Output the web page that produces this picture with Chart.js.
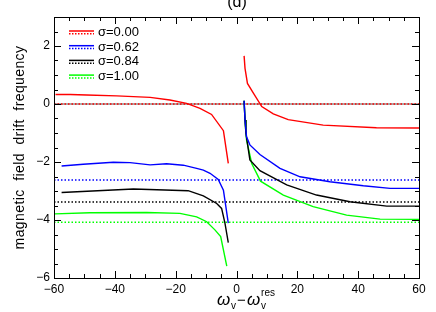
<!DOCTYPE html>
<html>
<head>
<meta charset="utf-8">
<script src="https://cdn.jsdelivr.net/npm/chart.js@4"></script>
<style>
html,body{margin:0;padding:0;background:#fff}
#wrap{width:436px;height:312px;position:relative}
#overlay{position:absolute;left:0;top:0;width:436px;height:312px;pointer-events:none;z-index:2}
</style>
</head>
<body>
<div id="wrap"><canvas id="mycanvas"></canvas><canvas id="overlay" width="436" height="312"></canvas></div>
<script>
// legend labels, colours and the horizontal (dotted) drift levels
var sigmaLabels = ['σ=0.00', 'σ=0.62', 'σ=0.84', 'σ=1.00'];
var colors = ['#ff0000', '#0000ff', '#000000', '#00ff00'];
var driftLevels = [0, -2.62, -3.38, -4.08];

var xTicks = [-60, -40, -20, 0, 20, 40, 60];
var yTicks = [-6, -4, -2, 0, 2];

// sigma = 0.00
var redLeftX  = [-59.5, -54.7, -49.3, -39.4, -28.4, -21.9, -16.4, -12, -8.2, -4.3, -2.7];
var redLeftY  = [0.33, 0.33, 0.31, 0.28, 0.23, 0.14, 0.02, -0.15, -0.36, -0.92, -2.05];
var redRightX = [2.5, 2.8, 3.6, 5.6, 8.3, 12.1, 17, 28.5, 46, 60];
var redRightY = [1.66, 1.23, 0.71, 0.37, -0.09, -0.34, -0.54, -0.73, -0.82, -0.83];

// sigma = 0.62
var blueLeftX  = [-57.5, -50.4, -40.5, -35, -28.4, -23, -17.5, -13.1, -10.9, -8.7, -6, -4.3, -2.7];
var blueLeftY  = [-2.14, -2.08, -2.01, -2.02, -2.10, -2.06, -2.11, -2.22, -2.28, -2.39, -2.6, -2.97, -4.11];
var blueRightX = [2.5, 2.8, 3.3, 4.4, 7.7, 14.3, 20.9, 30.7, 41.7, 50.5, 60];
var blueRightY = [0.11, -0.55, -1.13, -1.41, -1.74, -2.22, -2.51, -2.68, -2.82, -2.91, -2.91];

// sigma = 0.84
var blackLeftX  = [-57.5, -33.9, -15.9, -10.9, -6.5, -4.9, -3.8, -2.7];
var blackLeftY  = [-3.05, -2.93, -2.99, -3.17, -3.43, -3.6, -4.11, -4.78];
var blackRightX = [2.5, 2.8, 3.1, 4.4, 7.7, 16.5, 26.3, 37.3, 49.4, 60];
var blackRightY = [0.11, -0.55, -1.01, -1.93, -2.3, -2.79, -3.14, -3.37, -3.52, -3.52];

// sigma = 1.00
var greenLeftX  = [-59.7, -48.2, -29.5, -18.6, -13.1, -9.8, -7.1, -5.2, -4.3, -3.2];
var greenLeftY  = [-3.79, -3.75, -3.74, -3.77, -3.89, -4.06, -4.34, -4.57, -5.03, -5.59];
var greenRightX = [2.5, 2.8, 3.1, 3.3, 5, 7.9, 15.4, 25.2, 36.2, 47.2, 60];
var greenRightY = [0.11, -0.55, -1.01, -1.24, -2.05, -2.66, -3.14, -3.54, -3.83, -3.97, -3.98];

function branches(lx, ly, rx, ry) {
    var pts = [];
    for (var i = 0; i < lx.length; i++) pts.push({x: lx[i], y: ly[i]});
    pts.push({x: 0, y: null});
    for (var j = 0; j < rx.length; j++) pts.push({x: rx[j], y: ry[j]});
    return pts;
}

var curves = [
    branches(redLeftX, redLeftY, redRightX, redRightY),
    branches(blueLeftX, blueLeftY, blueRightX, blueRightY),
    branches(blackLeftX, blackLeftY, blackRightX, blackRightY),
    branches(greenLeftX, greenLeftY, greenRightX, greenRightY)
];

var datasets = [];
// zero line
datasets.push({
    data: [{x: -60, y: 0}, {x: 60, y: 0}],
    borderColor: '#555555', borderWidth: 1, order: 20
});
for (var k = 0; k < 4; k++) {
    datasets.push({
        data: [{x: -60, y: driftLevels[k]}, {x: 60, y: driftLevels[k]}],
        borderColor: colors[k], borderWidth: 1.5, borderDash: [1.5, 2], order: 10 + k
    });
}
// curves, blue ends up on top on the right branch
var curveOrder = [3, 1, 2, 4];
for (var c = 0; c < 4; c++) {
    datasets.push({
        data: curves[c],
        borderColor: colors[c], borderWidth: 1.4, order: curveOrder[c]
    });
}

var FONT = "'Liberation Sans', Arial, sans-serif";

// box and inward ticks, drawn on a separate canvas laid over the chart
function drawFrame(chart) {
    var g = document.getElementById('overlay').getContext('2d');
    var a = chart.chartArea;
    var xs = chart.scales.x, ys = chart.scales.y;
    var L = Math.round(a.left), R = Math.round(a.right);
    var T = Math.round(a.top), B = Math.round(a.bottom);
    g.clearRect(0, 0, 436, 312);
    g.fillStyle = '#000000';
    g.fillRect(L, T, R - L + 1, 1);
    g.fillRect(L, B, R - L + 1, 1);
    g.fillRect(L, T, 1, B - T + 1);
    g.fillRect(R, T, 1, B - T + 1);
    // x ticks every 5, major every 20
    for (var v = -60; v <= 60; v += 5) {
        var px = Math.round(xs.getPixelForValue(v));
        var len = (v % 20 === 0) ? 7 : 4;
        g.fillRect(px, B - len, 1, len);
        g.fillRect(px, T, 1, len);
    }
    // y ticks every 0.5, major every 2
    for (var w = -6; w <= 3; w += 0.5) {
        var py = Math.round(ys.getPixelForValue(w));
        var l2 = (w % 2 === 0) ? 7 : 4;
        g.fillRect(L, py, l2, 1);
        g.fillRect(R - l2, py, l2, 1);
    }
}

var texts = {
    id: 'texts',
    afterDraw: function(chart) {
        var g = chart.ctx;
        var a = chart.chartArea;
        g.save();
        // legend
        g.font = '13px ' + FONT;
        g.textBaseline = 'middle';
        g.textAlign = 'left';
        for (var i = 0; i < 4; i++) {
            var ry = 32 + i * 14.7;
            g.strokeStyle = colors[i];
            g.lineWidth = 1.5;
            g.setLineDash([]);
            g.beginPath(); g.moveTo(69, ry - 1); g.lineTo(94, ry - 1); g.stroke();
            g.setLineDash([1.5, 1.5]);
            g.beginPath(); g.moveTo(69, ry + 1.8); g.lineTo(94, ry + 1.8); g.stroke();
            g.setLineDash([]);
            g.fillStyle = '#000';
            g.fillText(sigmaLabels[i], 98, ry + 0.5);
        }

        // panel label
        g.font = '16px ' + FONT;
        g.textAlign = 'center';
        g.fillText('(d)', 237, 3);

        // y axis title
        g.save();
        g.translate(20, (a.top + a.bottom) / 2);
        g.rotate(-Math.PI / 2);
        g.font = '14px ' + FONT;
        g.letterSpacing = '0.4px';
        g.textAlign = 'center';
        g.fillText('magnetic  field  drift  frequency', 0, 0);
        g.restore();

        // x axis title: omega_v - omega_v^res
        var parts = [
            {t: 'ω', f: 'italic 17px ', dy: 0},
            {t: 'v', f: '10px ', dy: 4},
            {t: '−', f: '15px ', dy: 0},
            {t: 'ω', f: 'italic 17px ', dy: 0},
            {t: 'v', f: '10px ', dy: 4, sup: 'res'}
        ];
        var total = 0;
        g.textAlign = 'left';
        g.textBaseline = 'alphabetic';
        for (var p = 0; p < parts.length; p++) {
            g.font = parts[p].f + FONT;
            parts[p].w = g.measureText(parts[p].t).width + 1;
            total += parts[p].w;
        }
        var x0 = 242 - total / 2, base = 305;
        for (var q = 0; q < parts.length; q++) {
            g.font = parts[q].f + FONT;
            g.fillText(parts[q].t, x0, base + parts[q].dy);
            if (parts[q].sup) {
                g.font = '10px ' + FONT;
                g.fillText(parts[q].sup, x0, base - 9);
            }
            x0 += parts[q].w;
        }
        g.restore();
        drawFrame(chart);
    }
};

function tickLabel(v) {
    return v < 0 ? '−' + Math.abs(v) : String(v);
}

var chart = new Chart(document.getElementById('mycanvas'), {
    type: 'line',
    data: { datasets: datasets },
    plugins: [texts],
    options: {
        responsive: true,
        maintainAspectRatio: false,
        animation: false,
        spanGaps: false,
        elements: { point: { radius: 0 }, line: { tension: 0 } },
        layout: { padding: { top: 17, right: 17, left: 0, bottom: 0 } },
        plugins: { legend: { display: false }, tooltip: { enabled: false } },
        scales: {
            x: {
                type: 'linear', min: -60, max: 60,
                afterBuildTicks: function(s) { s.ticks = xTicks.map(function(v) { return {value: v}; }); },
                afterFit: function(s) { s.height = 34; },
                grid: { display: false, drawTicks: false },
                border: { display: false },
                ticks: { callback: tickLabel, color: '#000', padding: 4, maxRotation: 0,
                         font: { family: FONT, size: 12 } }
            },
            y: {
                type: 'linear', min: -6, max: 3,
                afterBuildTicks: function(s) { s.ticks = yTicks.map(function(v) { return {value: v}; }); },
                afterFit: function(s) { s.width = 54; },
                grid: { display: false, drawTicks: false },
                border: { display: false },
                ticks: { callback: tickLabel, color: '#000', padding: 4,
                         font: { family: FONT, size: 12 } }
            }
        }
    }
});
drawFrame(chart);
</script>
</body>
</html>
